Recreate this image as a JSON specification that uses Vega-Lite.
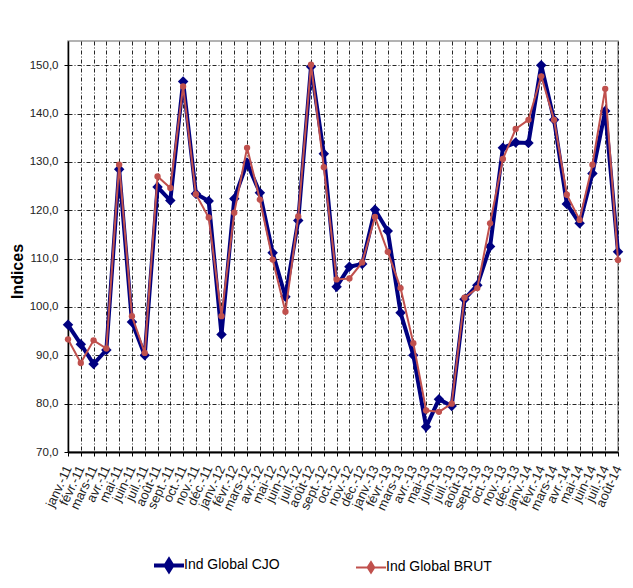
{
  "$schema": "https://vega.github.io/schema/vega-lite/v6.json",
  "width": 550,
  "height": 411,
  "autosize": "none",
  "padding": {"left": 68, "top": 41, "right": 15, "bottom": 136},
  "background": "white",
  "config": {
    "font": "Liberation Sans, Arial",
    "view": {"stroke": "#9a9a9a", "strokeWidth": 1.5},
    "axis": {
      "labelColor": "#222222",
      "labelFont": "Liberation Sans, Arial",
      "grid": true,
      "gridColor": "#000000",
      "gridDash": [4, 2, 1, 2],
      "gridWidth": 1,
      "gridOpacity": 0.85,
      "domainColor": "#000000",
      "tickColor": "#000000"
    }
  },
  "data": {
    "values": [
      {"m": "janv.-11", "Ind Global CJO": 96.3, "Ind Global BRUT": 93.3},
      {"m": "févr.-11", "Ind Global CJO": 92.3, "Ind Global BRUT": 88.4},
      {"m": "mars-11", "Ind Global CJO": 88.2, "Ind Global BRUT": 93.1},
      {"m": "avr.-11", "Ind Global CJO": 91.1, "Ind Global BRUT": 91.4},
      {"m": "mai-11", "Ind Global CJO": 128.5, "Ind Global BRUT": 129.4},
      {"m": "juin-11", "Ind Global CJO": 96.9, "Ind Global BRUT": 98.1},
      {"m": "juil.-11", "Ind Global CJO": 90.0, "Ind Global BRUT": 90.5},
      {"m": "août-11", "Ind Global CJO": 124.8, "Ind Global BRUT": 127.0},
      {"m": "sept.-11", "Ind Global CJO": 122.0, "Ind Global BRUT": 124.6},
      {"m": "oct.-11", "Ind Global CJO": 146.6, "Ind Global BRUT": 145.6},
      {"m": "nov.-11", "Ind Global CJO": 123.4, "Ind Global BRUT": 123.3},
      {"m": "déc.-11", "Ind Global CJO": 121.9, "Ind Global BRUT": 118.5},
      {"m": "janv.-12", "Ind Global CJO": 94.3, "Ind Global BRUT": 98.1},
      {"m": "févr.-12", "Ind Global CJO": 122.4, "Ind Global BRUT": 119.5},
      {"m": "mars-12", "Ind Global CJO": 129.8, "Ind Global BRUT": 132.9},
      {"m": "avr.-12", "Ind Global CJO": 123.6, "Ind Global BRUT": 122.2},
      {"m": "mai-12", "Ind Global CJO": 111.2, "Ind Global BRUT": 109.8},
      {"m": "juin-12", "Ind Global CJO": 102.1, "Ind Global BRUT": 99.0},
      {"m": "juil.-12", "Ind Global CJO": 117.9, "Ind Global BRUT": 118.7},
      {"m": "août-12", "Ind Global CJO": 149.7, "Ind Global BRUT": 150.1},
      {"m": "sept.-12", "Ind Global CJO": 131.7, "Ind Global BRUT": 128.9},
      {"m": "oct.-12", "Ind Global CJO": 104.2, "Ind Global BRUT": 105.7},
      {"m": "nov.-12", "Ind Global CJO": 108.3, "Ind Global BRUT": 105.9},
      {"m": "déc.-12", "Ind Global CJO": 108.9, "Ind Global BRUT": 109.2},
      {"m": "janv.-13", "Ind Global CJO": 120.1, "Ind Global BRUT": 118.6},
      {"m": "févr.-13", "Ind Global CJO": 115.7, "Ind Global BRUT": 111.4},
      {"m": "mars-13", "Ind Global CJO": 98.8, "Ind Global BRUT": 103.9},
      {"m": "avr.-13", "Ind Global CJO": 90.0, "Ind Global BRUT": 92.5},
      {"m": "mai-13", "Ind Global CJO": 75.2, "Ind Global BRUT": 78.6},
      {"m": "juin-13", "Ind Global CJO": 80.9, "Ind Global BRUT": 78.3},
      {"m": "juil.-13", "Ind Global CJO": 79.5, "Ind Global BRUT": 80.0},
      {"m": "août-13", "Ind Global CJO": 101.6, "Ind Global BRUT": 101.9},
      {"m": "sept.-13", "Ind Global CJO": 104.5, "Ind Global BRUT": 103.9},
      {"m": "oct.-13", "Ind Global CJO": 112.5, "Ind Global BRUT": 117.3},
      {"m": "nov.-13", "Ind Global CJO": 132.9, "Ind Global BRUT": 130.6},
      {"m": "déc.-13", "Ind Global CJO": 134.0, "Ind Global BRUT": 136.8},
      {"m": "janv.-14", "Ind Global CJO": 133.9, "Ind Global BRUT": 138.7},
      {"m": "févr.-14", "Ind Global CJO": 150.0, "Ind Global BRUT": 147.7},
      {"m": "mars-14", "Ind Global CJO": 138.7, "Ind Global BRUT": 138.7},
      {"m": "avr.-14", "Ind Global CJO": 121.3, "Ind Global BRUT": 123.2},
      {"m": "mai-14", "Ind Global CJO": 117.3, "Ind Global BRUT": 118.0},
      {"m": "juin-14", "Ind Global CJO": 127.6, "Ind Global BRUT": 129.4},
      {"m": "juil.-14", "Ind Global CJO": 140.5, "Ind Global BRUT": 145.1},
      {"m": "août-14", "Ind Global CJO": 111.4, "Ind Global BRUT": 109.7}
    ]
  },
  "transform": [
    {"fold": ["Ind Global CJO", "Ind Global BRUT"], "as": ["serie", "v"]}
  ],
  "encoding": {
    "x": {
      "field": "m",
      "type": "ordinal",
      "sort": null,
      "scale": {"type": "point", "padding": 0},
      "axis": {
        "title": null,
        "labelAngle": -65,
        "labelFontSize": 13,
        "labelPadding": 10,
        "tickSize": 4,
        "domainWidth": 2
      }
    },
    "y": {
      "field": "v",
      "type": "quantitative",
      "scale": {"domain": [70, 155], "nice": false, "zero": false},
      "axis": {
        "values": [70, 80, 90, 100, 110, 120, 130, 140, 150],
        "labelExpr": "replace(format(datum.value, '.1f'), '.', ',')",
        "labelFontSize": 11.5,
        "labelPadding": 6,
        "tickSize": 4,
        "domainWidth": 1.5,
        "title": "Indices",
        "titleFont": "Liberation Sans, Arial",
        "titleFontSize": 16,
        "titleFontWeight": "bold",
        "titleColor": "#000000",
        "titlePadding": 4,
        "titleY": 230
      }
    },
    "color": {
      "field": "serie",
      "type": "nominal",
      "scale": {"domain": ["Ind Global CJO", "Ind Global BRUT"], "range": ["#000080", "#C0504D"]},
      "legend": {
        "title": null,
        "orient": "none",
        "legendX": 94,
        "legendY": 517,
        "direction": "horizontal",
        "columnPadding": 72,
        "labelFont": "Liberation Sans, Arial",
        "labelFontSize": 14,
        "labelColor": "#000000",
        "labelOffset": 8,
        "symbolType": "M-1,0L1,0M-0.22,0L0,-0.35L0.22,0L0,0.35Z",
        "symbolSize": 900,
        "symbolStrokeWidth": 3,
        "symbolOpacity": 1,
        "encode": {
          "symbols": {
            "update": {
              "strokeWidth": {"signal": "datum.value == 'Ind Global CJO' ? 4 : 2"}
            }
          }
        }
      }
    }
  },
  "layer": [
    {
      "transform": [{"filter": "datum.serie == 'Ind Global CJO'"}],
      "mark": {"type": "line", "strokeWidth": 4}
    },
    {
      "transform": [{"filter": "datum.serie == 'Ind Global CJO'"}],
      "mark": {"type": "point", "shape": "diamond", "filled": true, "opacity": 1, "size": 110}
    },
    {
      "transform": [{"filter": "datum.serie == 'Ind Global BRUT'"}],
      "mark": {"type": "line", "strokeWidth": 2}
    },
    {
      "transform": [{"filter": "datum.serie == 'Ind Global BRUT'"}],
      "mark": {"type": "point", "shape": "circle", "filled": true, "opacity": 1, "size": 40}
    }
  ]
}
